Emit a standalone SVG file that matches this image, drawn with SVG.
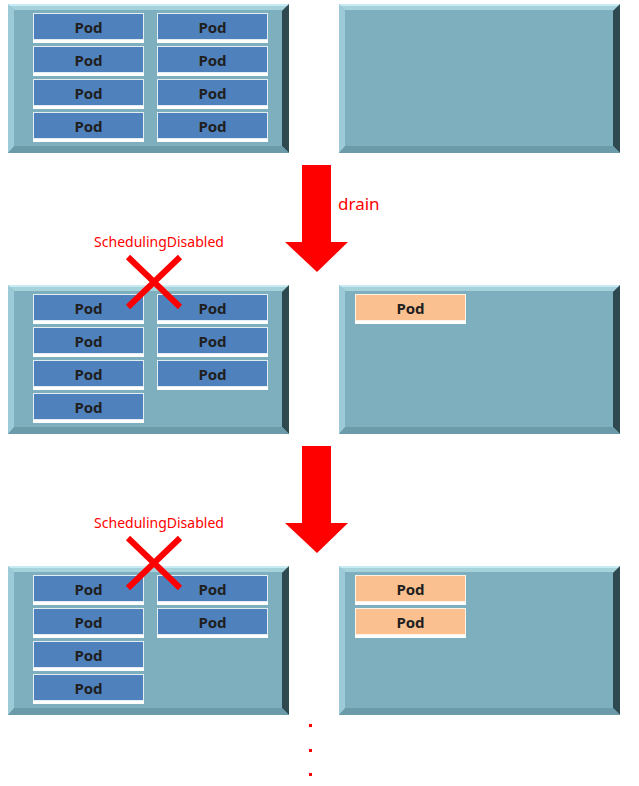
<svg xmlns="http://www.w3.org/2000/svg" xmlns:xlink="http://www.w3.org/1999/xlink" width="639" height="786" viewBox="0 0 639 786">
<style>
.face{fill:#7EAFBE}
.btop{fill:#A6D2DC}
.bleft{fill:#9CCAD6}
.bright{fill:#2E4950}
.bbot{fill:#6B9BA9}
.hl{fill:#C8EAF2}
.pod{fill:#4F81BD;stroke:#E4ECF4;stroke-width:1}
.podo{fill:#FAC090;stroke:#FFF3E8;stroke-width:1}
.bar{fill:#FFFFFF}
.pt{font-family:"Noto Sans","Open Sans",sans-serif;font-weight:bold;font-size:15px;fill:#1F1F1F;text-anchor:middle}
.red{fill:#FF0000}
.lbl{font-family:"Noto Sans","Open Sans",sans-serif;font-size:14px;fill:#FF0000}
.x{stroke:#FF0000;stroke-width:6;fill:none}
</style>
<defs>
<g id="box">
<rect class="face" x="0" y="0" width="281" height="149"/>
<polygon class="btop" points="0,0 281,0 275,6 6,6"/>
<rect class="hl" x="0" y="0" width="281" height="2"/>
<polygon class="bleft" points="0,0 6,6 6,143 0,149"/>
<polygon class="bright" points="281,0 281,149 274,142 274,7"/>
<polygon class="bbot" points="0,149 281,149 274,142 6,142"/>
</g>
<g id="pb">
<rect class="pod" x="0.5" y="0.5" width="110" height="26"/>
<rect class="bar" x="0" y="27" width="111" height="3"/>
<text class="pt" x="55.5" y="19.5">Pod</text>
</g>
<g id="po">
<rect class="podo" x="0.5" y="0.5" width="110" height="26"/>
<rect class="bar" x="0" y="27" width="111" height="3"/>
<text class="pt" x="55.5" y="19.5">Pod</text>
</g>
</defs>

<g id="node-a1">
<use xlink:href="#box" x="8" y="4"/>
<use xlink:href="#pb" x="33" y="13"/><use xlink:href="#pb" x="157" y="13"/>
<use xlink:href="#pb" x="33" y="46"/><use xlink:href="#pb" x="157" y="46"/>
<use xlink:href="#pb" x="33" y="79"/><use xlink:href="#pb" x="157" y="79"/>
<use xlink:href="#pb" x="33" y="112"/><use xlink:href="#pb" x="157" y="112"/>
</g>
<g id="node-b1">
<use xlink:href="#box" x="339" y="4"/>
</g>

<g id="node-a2">
<use xlink:href="#box" x="8" y="285"/>
<use xlink:href="#pb" x="33" y="294"/><use xlink:href="#pb" x="157" y="294"/>
<use xlink:href="#pb" x="33" y="327"/><use xlink:href="#pb" x="157" y="327"/>
<use xlink:href="#pb" x="33" y="360"/><use xlink:href="#pb" x="157" y="360"/>
<use xlink:href="#pb" x="33" y="393"/>
</g>
<g id="node-b2">
<use xlink:href="#box" x="339" y="285"/>
<use xlink:href="#po" x="355" y="294"/>
</g>

<g id="node-a3">
<use xlink:href="#box" x="8" y="566"/>
<use xlink:href="#pb" x="33" y="575"/><use xlink:href="#pb" x="157" y="575"/>
<use xlink:href="#pb" x="33" y="608"/><use xlink:href="#pb" x="157" y="608"/>
<use xlink:href="#pb" x="33" y="641"/>
<use xlink:href="#pb" x="33" y="674"/>
</g>
<g id="node-b3">
<use xlink:href="#box" x="339" y="566"/>
<use xlink:href="#po" x="355" y="575"/>
<use xlink:href="#po" x="355" y="608"/>
</g>

<g id="connectors">
<polygon class="red" points="302,165 331,165 331,242 348,242 317,272 285,242 302,242"/>
<text class="lbl" x="338" y="210" style="font-size:17px">drain</text>
<polygon class="red" points="302,446 331,446 331,523 348,523 317,553 285,523 302,523"/>
</g>

<g id="marks">
<text class="lbl" x="159" y="247" text-anchor="middle">SchedulingDisabled</text>
<path class="x" d="M128,257 L180,307 M180,257 L128,307"/>
<text class="lbl" x="159" y="528" text-anchor="middle">SchedulingDisabled</text>
<path class="x" d="M128,538 L180,588 M180,538 L128,588"/>
<rect class="red" x="309" y="724" width="3" height="3"/>
<rect class="red" x="309" y="749" width="3" height="3"/>
<rect class="red" x="309" y="773" width="3" height="3"/>
</g>
</svg>
